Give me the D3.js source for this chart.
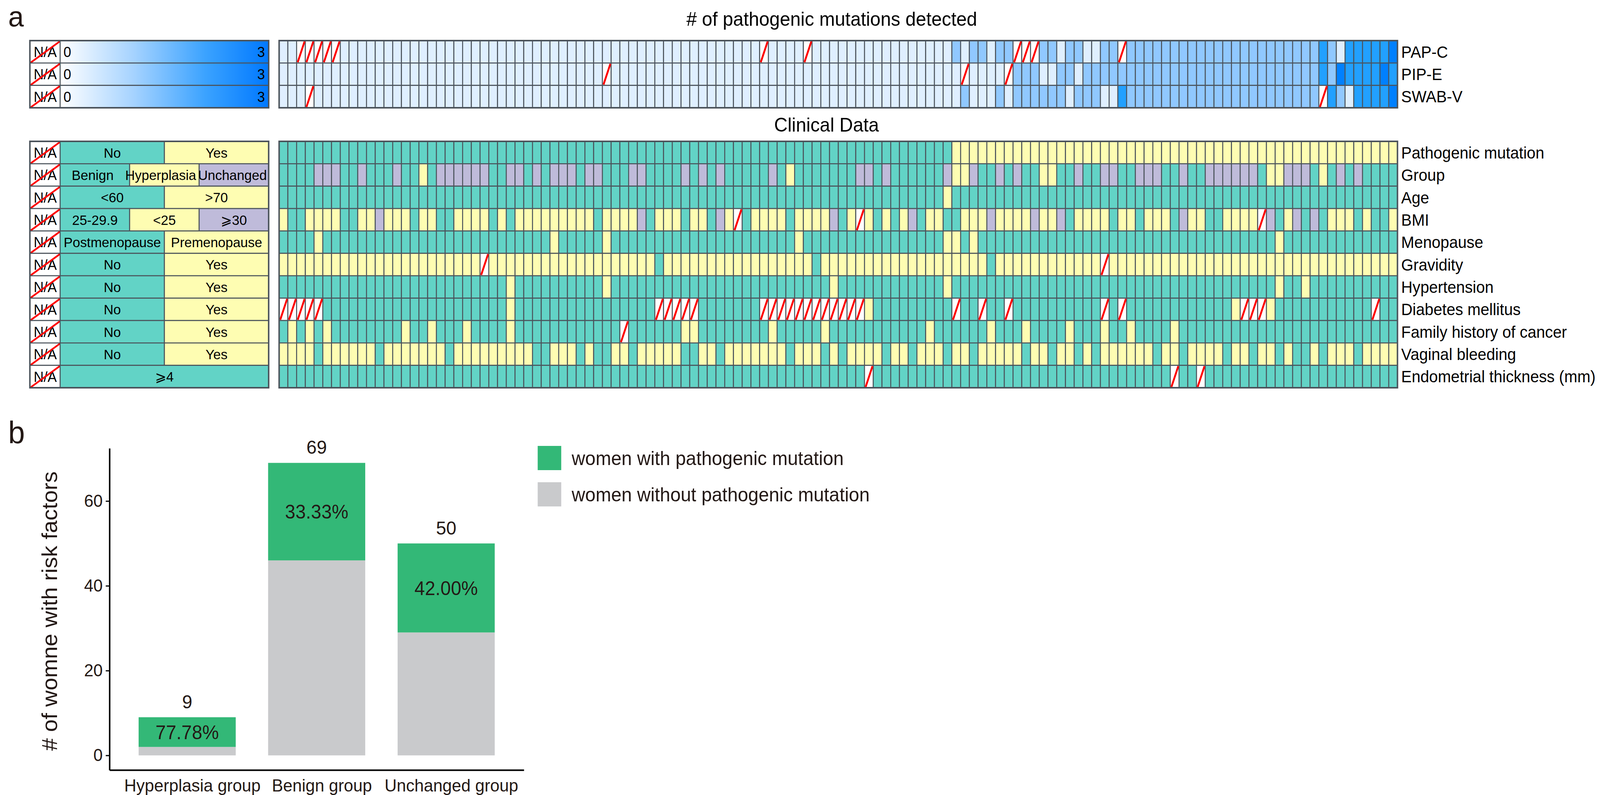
<!DOCTYPE html>
<html>
<head>
<meta charset="utf-8">
<script src="https://cdn.jsdelivr.net/npm/d3@7"></script>
<style>
  html, body { margin: 0; padding: 0; background: #fff; overflow: hidden; }
  svg { display: block; width: 100vw; height: 100vh; }
  text { font-family: "Liberation Sans", Arial, sans-serif; }
</style>
</head>
<body>
<svg id="chart" viewBox="0 0 4282 2036" preserveAspectRatio="none"></svg>
<script>
// ---------- panel a : samples (columns) ----------
var nCols = 128;

// mutations detected per sample, 0-3, N = not available
var mutationRows = ["PAP-C", "PIP-E", "SWAB-V"];
var papC  = "00NNNNN000 0000000000 0000000000 0000000000 0000000000 00000N0000 N000000000 0000000101 1011NNN110 110011N111 1111111111 1111111112 10222223";
var pipE  = "0000000000 0000000000 0000000000 0000000N00 0000000000 0000000000 0000000000 00000000N0 000N111001 1011111111 1111111111 1111111112 13222232";
var swabV = "000N000000 0000000000 0000000000 0000000000 0000000000 0000000000 0000000000 0000000010 0010111111 0111002111 1111111111 111111111N 21022223";

// clinical data per sample
var clinicalRows = ["Pathogenic mutation", "Group", "Age", "BMI", "Menopause", "Gravidity",
  "Hypertension", "Diabetes mellitus", "Family history of cancer", "Vaginal bleeding",
  "Endometrial thickness (mm)"];
var pathogenic   = "0000000000 0000000000 0000000000 0000000000 0000000000 0000000000 0000000000 0000000111 1111111111 1111111111 1111111111 1111111111 11111111";
var group        = "BBBBUUUBBU BBBUBBHBUU UUUUBBUUBU BUUUBUUBBB UUBBBBUBUB UBBBBBUBHB BBBBBBUUBU BBBBBBUHHU BBUBUBBHHB BUBBUUBBUU UBBUBBUUUU UUBHHUUUBH BUBUBBBB";
var age          = "0000000000 0000000000 0000000000 0000000000 0000000000 0000000000 0000000000 0000001000 0000000000 0000000000 0000000000 0000000000 00000000";
var bmi          = "YTTYYYYTTY YPYYYTYYTT YYYYTYTYYY YYYYYYTYYY YPTYYYTYYT PYNTYYYYTY YYYPTYNYTY TYPTYYTTYY YPYYYYPYYP TYYYYTYYTY YYTPYYTTYY YYNPTYPTPT YYYTYTTY";
var menopause    = "0000100000 0000000000 0000000000 0100000100 0000000000 0000000001 0000000000 0000001101 0000000000 0000000000 0000000000 0000100000 00000000";
var gravidity    = "1111111111 1111111111 111N111111 1111111111 1110111111 1111111111 1011111111 1111111111 1011111111 1111N11111 1111111111 1111111111 11111111";
var hypertension = "0000000000 0000000000 0000001000 0000000100 0000000000 0000000000 0001000000 0000001000 0000000000 0000000000 0000000000 0000100100 00000000";
var diabetes     = "NNNNN00000 0000000000 0000001000 0000000000 000NNNNN00 00000NNNNN NNNNNNN100 0000000N00 N00N000000 0000N0N000 0000000001 NNN1000000 00000N00";
var family       = "0101010000 0000100100 0100001000 000000000N 0000001100 0000001000 0010000000 0000100000 0100010000 1000100100 0010000000 0000000000 00000000";
var bleeding     = "1111011111 1011111110 1111111110 0111010011 0111110011 0111111101 1101011110 1101110110 1111101101 1010111111 0110111101 1011010010 11101111";
var endometrial  = "0000000000 0000000000 0000000000 0000000000 0000000000 0000000000 0000000N00 0000000000 0000000000 0000000000 00N00N0000 0000000000 00000000";

// legend categories of each clinical row: [code, label]
var yesNo = [["0", "No"], ["1", "Yes"]];
var clinicalLegend = [
  yesNo,
  [["B", "Benign"], ["H", "Hyperplasia"], ["U", "Unchanged"]],
  [["0", "<60"], ["1", ">70"]],
  [["T", "25-29.9"], ["Y", "<25"], ["P", "\u2A7E30"]],
  [["0", "Postmenopause"], ["1", "Premenopause"]],
  yesNo, yesNo, yesNo, yesNo, yesNo,
  [["0", "\u2A7E4"]]
];

// ---------- panel b ----------
var groups = ["Hyperplasia group", "Benign group", "Unchanged group"];
var withMutation = [7, 23, 21];
var withoutMutation = [2, 46, 29];
var yTicks = [0, 20, 40, 60];
var legendLabels = ["women with pathogenic mutation", "women without pathogenic mutation"];

// ---------- styling ----------
var gridColor = "#4b535b";
var heatColor = {"0": "#dfefff", "1": "#90c8ff", "2": "#22a0ff", "3": "#0080ff"};
var catColor = {"0": "#62d3c6", "1": "#fefdb2", "B": "#62d3c6", "H": "#fefdb2", "U": "#bfbbda",
                "T": "#62d3c6", "Y": "#fefdb2", "P": "#bfbbda"};
var green = "#33b877", grey = "#c9cacc", ink = "#231815";

function cellsOf(str) { return str.replace(/ /g, "").split(""); }

var svg = d3.select("#chart");

var x = d3.scaleBand().domain(d3.range(nCols)).range([747, 3740]);
var yTop = d3.scaleBand().domain(mutationRows).range([104, 276]);
var yClin = d3.scaleBand().domain(clinicalRows).range([362, 993]);

var legX = d3.scaleLinear().domain([0, 1]).range([161, 719]);
var labelX = 3750;

function drawRow(g, values, y, rowY, colorOf) {
  var cells = values.map(function(v, i) { return {i: i, v: v}; });
  var row = g.append("g");
  row.selectAll("rect").data(cells).enter().append("rect")
    .attr("x", function(d) { return x(d.i); })
    .attr("y", rowY)
    .attr("width", x.bandwidth())
    .attr("height", y.bandwidth())
    .attr("fill", function(d) { return d.v === "N" ? "#fff" : colorOf(d.v); })
    .attr("stroke", gridColor)
    .attr("stroke-width", 2.6);
  row.selectAll("line").data(cells.filter(function(d) { return d.v === "N"; })).enter().append("line")
    .attr("x1", function(d) { return x(d.i) + 3; })
    .attr("y1", rowY + y.bandwidth() - 2)
    .attr("x2", function(d) { return x(d.i) + x.bandwidth() - 2; })
    .attr("y2", rowY + 2)
    .attr("stroke", "#ff0000")
    .attr("stroke-width", 5);
}

function naCell(g, rowY, h) {
  g.append("rect").attr("x", 80).attr("y", rowY).attr("width", 81).attr("height", h)
    .attr("fill", "#fff").attr("stroke", gridColor).attr("stroke-width", 2.6);
  g.append("text").attr("x", 121).attr("y", rowY + h / 2).attr("dy", "0.36em")
    .attr("text-anchor", "middle").attr("font-size", 37).text("N/A");
  g.append("line").attr("x1", 82).attr("y1", rowY + h - 1).attr("x2", 160).attr("y2", rowY + 2)
    .attr("stroke", "#ff0000").attr("stroke-width", 4.5);
}

// titles
svg.append("text").attr("x", 22).attr("y", 68).attr("font-size", 75).attr("fill", ink).text("a");
svg.append("text").attr("x", 2226).attr("y", 66)
  .attr("text-anchor", "middle").attr("font-size", 50).text("# of pathogenic mutations detected");
svg.append("text").attr("x", 2212).attr("y", 337)
  .attr("text-anchor", "middle").attr("font-size", 50).text("Clinical Data");

// gradient for mutation legend
var grad = svg.append("defs").append("linearGradient").attr("id", "mutGrad");
grad.append("stop").attr("offset", "0%").attr("stop-color", "#ffffff");
grad.append("stop").attr("offset", "35%").attr("stop-color", "#a6d3ff");
grad.append("stop").attr("offset", "70%").attr("stop-color", "#3aa2ff");
grad.append("stop").attr("offset", "100%").attr("stop-color", "#0078ff");

// mutation heatmap
var topG = svg.append("g");
[papC, pipE, swabV].forEach(function(s, r) {
  var name = mutationRows[r], ry = yTop(name), h = yTop.bandwidth();
  drawRow(topG, cellsOf(s), yTop, ry, function(v) { return heatColor[v]; });
  topG.append("text").attr("x", labelX).attr("y", ry + h / 2).attr("dy", "0.36em")
    .attr("font-size", 42).text(name);
  // legend
  naCell(topG, ry, h);
  topG.append("rect").attr("x", legX(0)).attr("y", ry).attr("width", legX(1) - legX(0))
    .attr("height", h).attr("fill", "url(#mutGrad)")
    .attr("stroke", gridColor).attr("stroke-width", 2.6);
  topG.append("text").attr("x", legX(0) + 9).attr("y", ry + h / 2).attr("dy", "0.36em")
    .attr("font-size", 37).text("0");
  topG.append("text").attr("x", legX(1) - 10).attr("y", ry + h / 2).attr("dy", "0.36em")
    .attr("text-anchor", "end").attr("font-size", 37).text("3");
});
topG.append("rect").attr("x", x(0)).attr("y", 104).attr("width", 3740 - 747).attr("height", 172)
  .attr("fill", "none").attr("stroke", gridColor).attr("stroke-width", 4);
topG.append("rect").attr("x", 80).attr("y", 104).attr("width", 639).attr("height", 172)
  .attr("fill", "none").attr("stroke", gridColor).attr("stroke-width", 4);

// clinical heatmap
var clin = svg.append("g");
[pathogenic, group, age, bmi, menopause, gravidity, hypertension, diabetes, family, bleeding, endometrial]
  .forEach(function(s, r) {
    var name = clinicalRows[r], ry = yClin(name), h = yClin.bandwidth();
    drawRow(clin, cellsOf(s), yClin, ry, function(v) { return catColor[v]; });
    clin.append("text").attr("x", labelX).attr("y", ry + h / 2).attr("dy", "0.36em")
      .attr("font-size", 42).text(name);
    naCell(clin, ry, h);
    var cats = clinicalLegend[r];
    var w = (legX(1) - legX(0)) / cats.length;
    // the group labels nearly touch, so pull them slightly apart
    var nudge = (r === 1) ? [-6, -10, -4] : [0, 0, 0];
    cats.forEach(function(c, k) {
      clin.append("rect").attr("x", legX(0) + k * w).attr("y", ry).attr("width", w).attr("height", h)
        .attr("fill", catColor[c[0]]).attr("stroke", gridColor).attr("stroke-width", 2.6);
    });
    cats.forEach(function(c, k) {
      clin.append("text").attr("x", legX(0) + (k + 0.5) * w + nudge[k]).attr("y", ry + h / 2).attr("dy", "0.36em")
        .attr("text-anchor", "middle").attr("font-size", 36).text(c[1]);
    });
  });
clin.append("rect").attr("x", x(0)).attr("y", 362).attr("width", 3740 - 747).attr("height", 993 - 362)
  .attr("fill", "none").attr("stroke", gridColor).attr("stroke-width", 4);
clin.append("rect").attr("x", 80).attr("y", 362).attr("width", 639).attr("height", 993 - 362)
  .attr("fill", "none").attr("stroke", gridColor).attr("stroke-width", 4);

// ---------- panel b : stacked bars ----------
svg.append("text").attr("x", 22).attr("y", 1135).attr("font-size", 80).attr("fill", ink).text("b");

var bx = d3.scaleBand().domain(groups).range([293, 1402]).paddingInner(0.25).paddingOuter(0.225);
var by = d3.scaleLinear().domain([-3.45, 72.45]).range([1972, 1148]);

var bars = groups.map(function(gname, i) {
  return {g: gname, without: withoutMutation[i], with: withMutation[i], total: withoutMutation[i] + withMutation[i]};
});

var bp = svg.append("g");
bp.selectAll(".without").data(bars).enter().append("rect")
  .attr("x", function(d) { return bx(d.g); })
  .attr("y", function(d) { return by(d.without); })
  .attr("width", bx.bandwidth())
  .attr("height", function(d) { return by(0) - by(d.without); })
  .attr("fill", grey);
bp.selectAll(".with").data(bars).enter().append("rect")
  .attr("x", function(d) { return bx(d.g); })
  .attr("y", function(d) { return by(d.total); })
  .attr("width", bx.bandwidth())
  .attr("height", function(d) { return by(d.without) - by(d.total); })
  .attr("fill", green);
bp.selectAll(".pct").data(bars).enter().append("text")
  .attr("x", function(d) { return bx(d.g) + bx.bandwidth() / 2; })
  .attr("y", function(d) { return by((d.without + d.total) / 2); })
  .attr("dy", "0.36em").attr("text-anchor", "middle").attr("font-size", 50).attr("fill", ink)
  .text(function(d) { return (d.with / d.total * 100).toFixed(2) + "%"; });
bp.selectAll(".tot").data(bars).enter().append("text")
  .attr("x", function(d) { return bx(d.g) + bx.bandwidth() / 2; })
  .attr("y", function(d) { return by(d.total) - 23; })
  .attr("text-anchor", "middle").attr("font-size", 49).attr("fill", ink)
  .text(function(d) { return d.total; });

var yAxis = svg.append("g").attr("transform", "translate(293,0)")
  .call(d3.axisLeft(by).tickValues(yTicks).tickSize(10).tickSizeOuter(0).tickPadding(8));
var xAxis = svg.append("g").attr("transform", "translate(0,1972)")
  .call(d3.axisBottom(bx).tickSize(0).tickSizeOuter(0).tickPadding(23));
[yAxis, xAxis].forEach(function(a) {
  a.select(".domain").attr("stroke", "#000").attr("stroke-width", 4);
  a.selectAll(".tick line").attr("stroke", "#000").attr("stroke-width", 3);
  a.selectAll("text").attr("font-size", 45).attr("fill", ink)
    .style("font-family", "'Liberation Sans', Arial, sans-serif");
});
xAxis.selectAll("text").attr("dx", 14);

svg.append("text").attr("transform", "translate(153,1565) rotate(-90)")
  .attr("text-anchor", "middle").attr("font-size", 58).attr("fill", ink)
  .text("# of womne with risk factors");

// legend
var leg = svg.append("g");
[green, grey].forEach(function(c, i) {
  leg.append("rect").attr("x", 1439).attr("y", 1142 + i * 93).attr("width", 63).attr("height", 62).attr("fill", c);
  leg.append("text").attr("x", 1530).attr("y", 1173 + i * 93).attr("dy", "0.36em")
    .attr("font-size", 50).attr("fill", ink).text(legendLabels[i]);
});
</script>
</body>
</html>
